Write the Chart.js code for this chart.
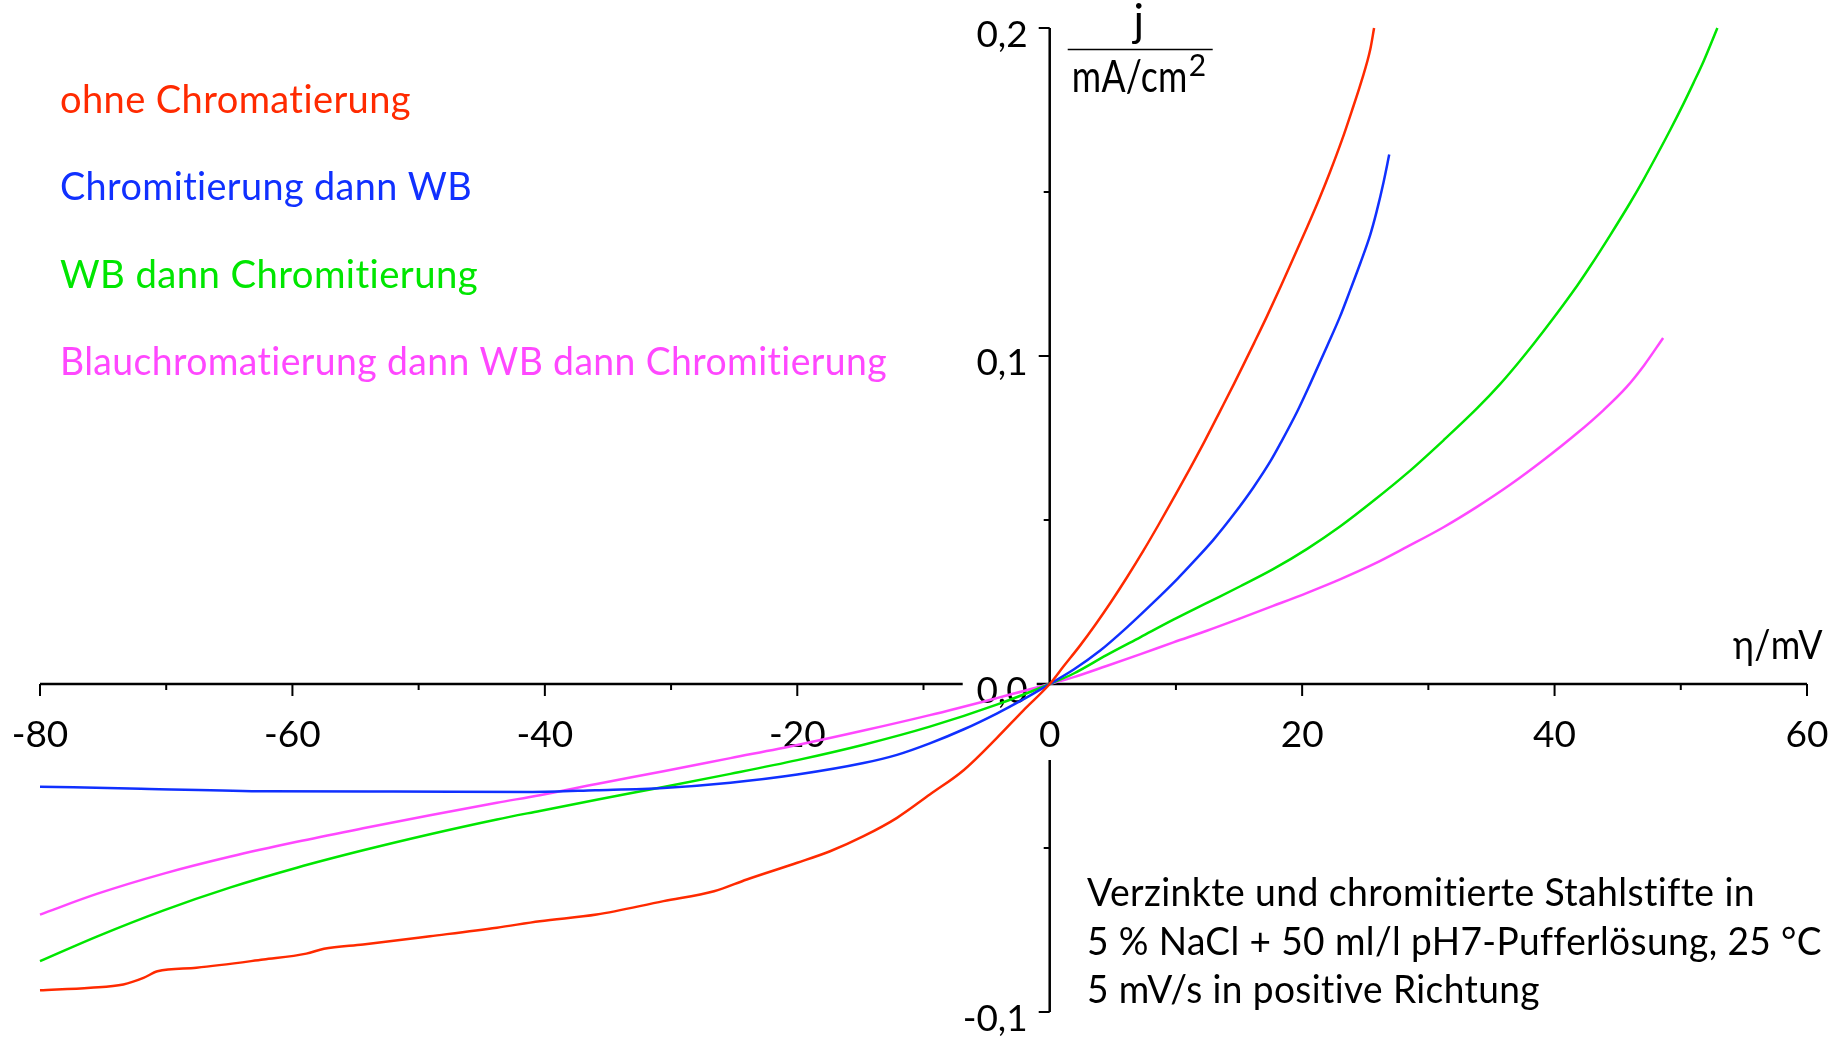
<!DOCTYPE html>
<html>
<head>
<meta charset="utf-8">
<script src="https://cdn.jsdelivr.net/npm/chart.js@4.4.1/dist/chart.umd.min.js"></script>
<style>
  html, body { margin: 0; padding: 0; background: #fff; }
  #wrap { width: 1843px; height: 1040px; position: relative; }
</style>
</head>
<body>
<div id="wrap"><canvas id="kurven"></canvas></div>
<script>
// Daten (eta in mV, j in mA/cm2)
const etaOhne = [-80, -76, -73.4, -71.8, -70.7, -67.6, -62.3, -58.9, -57.5, -54.4, -49.1, -43.8, -40.4, -35.9, -30.6, -26.6, -24, -20, -17.4, -14.75, -12.1, -9.5, -6.8, -4.2, -2.1, 0, 1.1, 2.4, 3.6, 4.8, 6.1, 7.4, 8.6, 9.8, 11.1, 12.3, 13.5, 14.6, 15.5, 16.2, 17.2, 18.3, 19.3, 20.4, 21.4, 22.2, 23.15, 23.9, 24.7, 25.4, 25.7];
const jOhne = [-0.0934, -0.0926, -0.0916, -0.0896, -0.0876, -0.0865, -0.084, -0.0822, -0.0807, -0.0794, -0.0769, -0.0743, -0.0723, -0.0703, -0.0662, -0.0632, -0.0596, -0.0545, -0.051, -0.0464, -0.0408, -0.0337, -0.0262, -0.0165, -0.0081, 0, 0.0054, 0.0117, 0.0180, 0.0247, 0.0324, 0.0405, 0.0484, 0.0566, 0.0656, 0.0742, 0.0832, 0.0915, 0.0985, 0.1040, 0.1120, 0.1212, 0.1298, 0.1393, 0.1483, 0.1560, 0.1658, 0.1743, 0.1838, 0.1935, 0.2];

const etaChromWB = [-80, -72, -62, -52, -41, -36, -30.6, -25.3, -20, -14.75, -12.1, -9.5, -6.8, -4.2, -2.1, 0, 1.9, 4.0, 6.1, 8.2, 10.1, 11.4, 13.0, 14.6, 16.15, 17.5, 18.3, 19.6, 20.6, 22.0, 23.0, 23.8, 24.6, 25.4, 25.9, 26.45, 26.9];
const jChromWB = [-0.0313, -0.0319, -0.0327, -0.0328, -0.0329, -0.0324, -0.0317, -0.0301, -0.0276, -0.0241, -0.0216, -0.0181, -0.0138, -0.0090, -0.0047, 0, 0.0044, 0.0102, 0.0172, 0.0248, 0.0320, 0.0373, 0.0441, 0.0518, 0.0600, 0.0680, 0.0735, 0.0830, 0.0912, 0.1032, 0.1120, 0.1200, 0.1282, 0.1370, 0.1440, 0.1530, 0.1614];

const etaWBChrom = [-80, -75.5, -70.2, -64.9, -59.65, -54.4, -49.1, -43.8, -40.4, -35.9, -30.6, -25.3, -20, -14.75, -9.5, -4.2, 0, 1.9, 4.5, 7.2, 9.8, 12.5, 15.1, 17.7, 20.4, 23.0, 25.7, 28.3, 31.2, 33.85, 35.7, 37.1, 38.3, 39.9, 41.8, 42.8, 44.4, 46.0, 47.05, 48.1, 49.2, 50.2, 51.0, 51.8, 52.9];
const jWBChrom = [-0.0845, -0.0770, -0.0690, -0.0620, -0.0560, -0.0507, -0.0458, -0.0413, -0.0387, -0.0353, -0.0314, -0.0274, -0.0232, -0.0185, -0.0130, -0.0063, 0, 0.0032, 0.0088, 0.0143, 0.0196, 0.0248, 0.0298, 0.0350, 0.0412, 0.0480, 0.0560, 0.0642, 0.0743, 0.0840, 0.0915, 0.0978, 0.1035, 0.1115, 0.1215, 0.1272, 0.1368, 0.1468, 0.1538, 0.1612, 0.1692, 0.1768, 0.1832, 0.1898, 0.2];

const etaBlau = [-80, -75.5, -70.2, -64.9, -59.65, -54.4, -49.1, -43.8, -40.4, -35.9, -30.6, -25.3, -20, -14.75, -9.5, -4.2, 0, 1.9, 4.5, 7.2, 9.8, 12.5, 15.1, 17.7, 20.4, 23.0, 25.7, 28.3, 31.2, 33.85, 36.5, 39.1, 41.8, 43.9, 45.7, 47.1, 48.6];
const jBlau = [-0.0703, -0.0640, -0.0578, -0.0526, -0.0481, -0.0440, -0.0400, -0.0362, -0.0339, -0.0305, -0.0266, -0.0226, -0.0186, -0.0142, -0.0095, -0.0043, 0, 0.0021, 0.0055, 0.0091, 0.0127, 0.0163, 0.0200, 0.0238, 0.0278, 0.0319, 0.0366, 0.0418, 0.0478, 0.0540, 0.0608, 0.0682, 0.0765, 0.0836, 0.0905, 0.0972, 0.1055];

const serienNamen = ["ohne Chromatierung", "Chromitierung dann WB", "WB dann Chromitierung", "Blauchromatierung dann WB dann Chromitierung"];

// Achsen
const xMajor = [-80, -60, -40, -20, 0, 20, 40, 60];
const xMinor = [-70, -50, -30, -10, 10, 30, 50];
const yMajor = [0.2, 0.1, 0, -0.1];
const yMajorLabels = ["0,2", "0,1", "0,0", "-0,1"];
const yMinor = [0.15, 0.05, -0.05];

const infoText = [
  "Verzinkte und chromitierte Stahlstifte in",
  "5 % NaCl + 50 ml/l pH7-Pufferlösung, 25 °C",
  "5 mV/s in positive Richtung"
];

const farben = ["#ff2a00", "#1030ff", "#00e600", "#ff48ff"];
const FONT = "Lato, 'Open Sans', sans-serif";

function punkte(xs, ys) {
  return xs.map((x, i) => ({ x: x, y: ys[i] }));
}

// Text mit fester Breite (horizontal gestaucht), ohne Ligaturen
function breitText(ctx, txt, x, y, size, breite, farbe) {
  ctx.save();
  ctx.font = size + "px " + FONT;
  ctx.letterSpacing = "0.4px";
  ctx.fillStyle = farbe;
  ctx.textAlign = "left";
  ctx.textBaseline = "alphabetic";
  let w = ctx.measureText(txt).width;
  ctx.translate(x, y);
  ctx.scale(breite / w, 1);
  ctx.fillText(txt, 0, 0);
  ctx.restore();
}

const achsenPlugin = {
  id: "achsen",
  beforeDatasetsDraw(chart) {
    const ctx = chart.ctx;
    const xs = chart.scales.x, ys = chart.scales.y;
    const x0 = xs.getPixelForValue(0), y0 = ys.getPixelForValue(0);
    ctx.save();
    ctx.strokeStyle = "#000";
    ctx.lineWidth = 2.5;
    ctx.beginPath();
    // x-Achse mit Lücke für "0,0"
    ctx.moveTo(xs.getPixelForValue(-80), y0);
    ctx.lineTo(x0 - 87, y0);
    ctx.moveTo(x0 - 13, y0);
    ctx.lineTo(xs.getPixelForValue(60), y0);
    // y-Achse mit Lücke für "0"
    ctx.moveTo(x0, ys.getPixelForValue(0.2));
    ctx.lineTo(x0, y0);
    ctx.moveTo(x0, y0 + 76);
    ctx.lineTo(x0, ys.getPixelForValue(-0.1));
    ctx.stroke();

    ctx.lineWidth = 2;
    ctx.beginPath();
    xMajor.forEach(v => {
      if (v === 0) return;
      const p = xs.getPixelForValue(v);
      ctx.moveTo(p, y0); ctx.lineTo(p, y0 + 12);
    });
    xMinor.forEach(v => {
      const p = xs.getPixelForValue(v);
      ctx.moveTo(p, y0); ctx.lineTo(p, y0 + 6);
    });
    yMajor.forEach(v => {
      const p = ys.getPixelForValue(v);
      ctx.moveTo(x0, p); ctx.lineTo(x0 - 11, p);
    });
    yMinor.forEach(v => {
      const p = ys.getPixelForValue(v);
      ctx.moveTo(x0, p); ctx.lineTo(x0 - 6, p);
    });
    ctx.stroke();

    // Beschriftungen
    ctx.fillStyle = "#000";
    ctx.font = "37px " + FONT;
    ctx.textBaseline = "alphabetic";
    ctx.textAlign = "center";
    xMajor.forEach(v => {
      ctx.fillText(String(v), xs.getPixelForValue(v), y0 + 63);
    });
    ctx.textAlign = "right";
    yMajor.forEach((v, i) => {
      ctx.fillText(yMajorLabels[i], x0 - 22, ys.getPixelForValue(v) + 19);
    });

    // Achsentitel
    ctx.textAlign = "center";
    ctx.font = "44px " + FONT;
    ctx.fillText("j", x0 + 89, 36);
    ctx.lineWidth = 1.6;
    ctx.beginPath();
    ctx.moveTo(x0 + 18, 49.5);
    ctx.lineTo(x0 + 163, 49.5);
    ctx.stroke();
    breitText(ctx, "mA/cm", x0 + 22, 92, 44, 116, "#000");
    ctx.font = "30px " + FONT;
    ctx.textAlign = "left";
    ctx.fillText("2", x0 + 139, 76);
    breitText(ctx, "η/mV", 1733, 659, 41, 90, "#000");
    ctx.restore();
  },
  afterDraw(chart) {
    const ctx = chart.ctx;
    const legY = [113, 200, 288, 375];
    const legW = [351, 412, 418, 827];
    serienNamen.forEach((n, i) => breitText(ctx, n, 60, legY[i], 39, legW[i], farben[i]));
    const infoY = [906, 955, 1003];
    const infoW = [668, 735, 453];
    infoText.forEach((t, i) => breitText(ctx, t, 1087, infoY[i], 38, infoW[i], "#000"));
  }
};

const serien = [[etaOhne, jOhne], [etaChromWB, jChromWB], [etaWBChrom, jWBChrom], [etaBlau, jBlau]];

new Chart(document.getElementById("kurven"), {
  type: "scatter",
  data: {
    datasets: serien.map((s, i) => ({
      label: serienNamen[i],
      data: punkte(s[0], s[1]),
      showLine: true,
      borderColor: farben[i],
      backgroundColor: farben[i],
      borderWidth: 2.5,
      pointRadius: 0,
      cubicInterpolationMode: "monotone",
      clip: false
    }))
  },
  options: {
    responsive: true,
    maintainAspectRatio: false,
    animation: false,
    layout: { padding: { left: 40, right: 36, top: 28, bottom: 28 } },
    plugins: { legend: { display: false }, tooltip: { enabled: false } },
    scales: {
      x: { type: "linear", min: -80, max: 60, display: false },
      y: { type: "linear", min: -0.1, max: 0.2, display: false }
    }
  },
  plugins: [achsenPlugin]
});
</script>
</body>
</html>
